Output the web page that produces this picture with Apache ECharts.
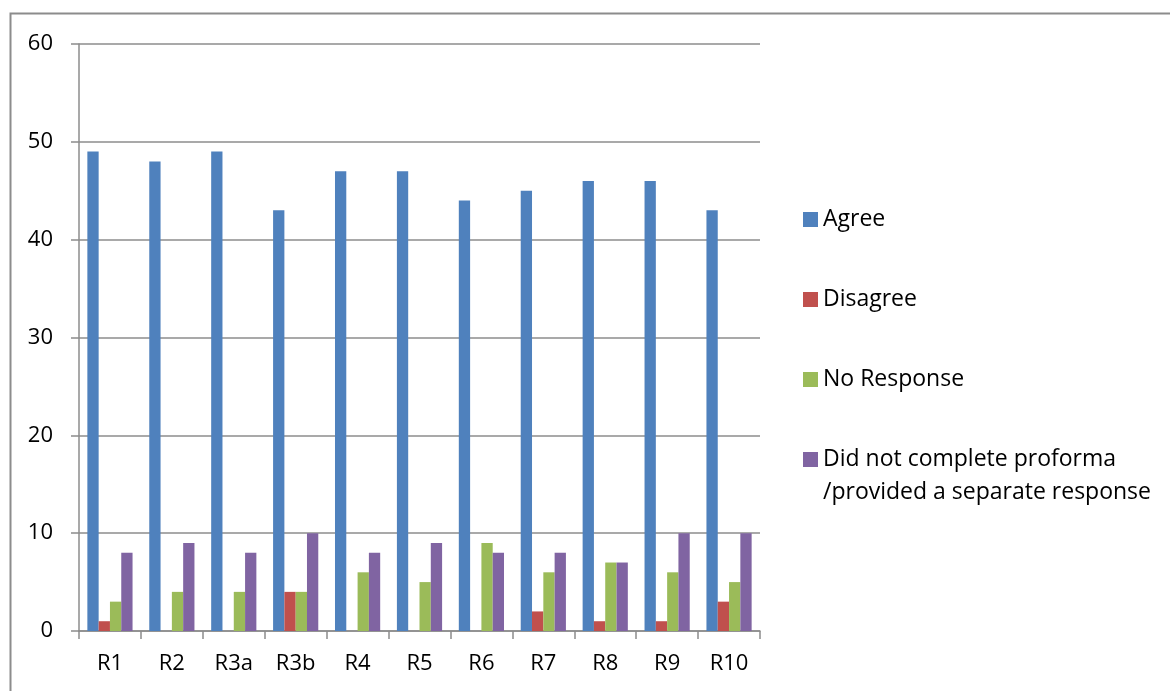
<!DOCTYPE html>
<html>
<head>
<meta charset="utf-8">
<script src="https://cdn.jsdelivr.net/npm/echarts@6/dist/echarts.min.js"></script>
<style>
  html, body { margin: 0; padding: 0; background: #ffffff; }
  #chart { width: 1170px; height: 691px; }
</style>
</head>
<body>
<div id="chart"></div>
<script>
// Survey responses per recommendation
const categories = ['R1', 'R2', 'R3a', 'R3b', 'R4', 'R5', 'R6', 'R7', 'R8', 'R9', 'R10'];
const agree = [49, 48, 49, 43, 47, 47, 44, 45, 46, 46, 43];
const disagree = [1, 0, 0, 4, 0, 0, 0, 2, 1, 1, 3];
const noResponse = [3, 4, 4, 4, 6, 5, 9, 6, 7, 6, 5];
const didNotComplete = [8, 9, 8, 10, 8, 9, 8, 8, 7, 10, 10];
const seriesNames = ['Agree', 'Disagree', 'No Response', 'Did not complete proforma\n/provided a separate response'];
const yTicks = { min: 0, max: 60, interval: 10 };

const colors = ['#4F81BD', '#C0504D', '#9BBB59', '#8064A2'];
const font = '"Open Sans", Lato, sans-serif';
const gridColor = '#8c8c8c';

const chart = echarts.init(document.getElementById('chart'), null, { renderer: 'canvas' });

function barSeries(name, data, color) {
  return {
    name: name,
    type: 'bar',
    data: data,
    barGap: '0%',
    barCategoryGap: '27%',
    itemStyle: { color: color },
    emphasis: { disabled: true }
  };
}

const legendBase = {
  orient: 'vertical',
  left: 803,
  padding: 0,
  itemWidth: 15,
  itemHeight: 15,
  itemGap: 47,
  icon: 'rect',
  align: 'left',
  selectedMode: false,
  textStyle: { fontFamily: font, fontSize: 23, color: '#000', lineHeight: 33 }
};

chart.setOption({
  animation: false,
  textStyle: { fontFamily: font },
  grid: { left: 79, right: 410, top: 44, bottom: 60, containLabel: false },
  graphic: [
    {
      type: 'polyline',
      shape: { points: [[10.5, 700], [10.5, 13.5], [1180, 13.5]] },
      style: { stroke: '#8c8c8c', lineWidth: 2, fill: null },
      silent: true
    }
  ],
  legend: [
    Object.assign({}, legendBase, { top: 203, data: seriesNames.slice(0, 3) }),
    // two-line entry: a blank first line keeps the swatch level with the first text line
    Object.assign({}, legendBase, {
      top: 410,
      data: seriesNames.slice(3),
      formatter: function (name) { return '\n' + name; }
    })
  ],
  xAxis: {
    type: 'category',
    data: categories,
    axisLine: { lineStyle: { color: gridColor, width: 1.5 } },
    axisTick: { show: true, length: 8, alignWithLabel: false, lineStyle: { color: gridColor, width: 1.5 } },
    axisLabel: { color: '#000', fontSize: 22, margin: 22, fontFamily: font },
    splitLine: { show: false }
  },
  yAxis: {
    type: 'value',
    min: yTicks.min,
    max: yTicks.max,
    interval: yTicks.interval,
    axisLine: { show: true, lineStyle: { color: gridColor, width: 1.5 } },
    axisTick: { show: true, length: 8, lineStyle: { color: gridColor, width: 1.5 } },
    axisLabel: { color: '#000', fontSize: 22, margin: 26, fontFamily: font },
    splitLine: { show: true, lineStyle: { color: gridColor, width: 1.5 } }
  },
  series: [
    barSeries(seriesNames[0], agree, colors[0]),
    barSeries(seriesNames[1], disagree, colors[1]),
    barSeries(seriesNames[2], noResponse, colors[2]),
    barSeries(seriesNames[3], didNotComplete, colors[3])
  ]
});
</script>
</body>
</html>
